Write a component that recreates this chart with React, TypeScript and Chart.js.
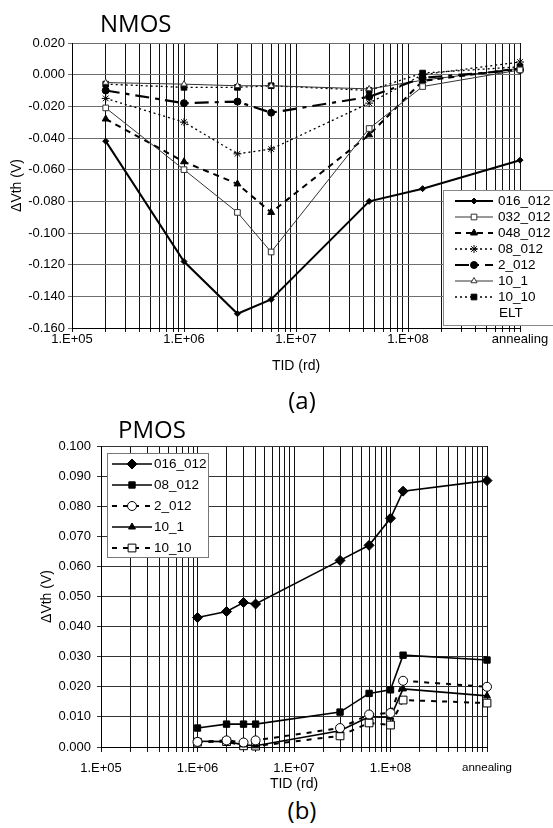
import React, { useEffect, useRef } from 'react';
import { Chart, registerables } from 'chart.js';
Chart.register(...registerables);

// ---------------- data ----------------
const ANNEALING = 1e9;
const xTickValues = [1e5, 1e6, 1e7, 1e8, ANNEALING];
const xTickLabels = ['1.E+05', '1.E+06', '1.E+07', '1.E+08', 'annealing'];

// NMOS (a)
const nmosDose = [2e5, 1e6, 3e6, 6e6, 4.5e7, 1.35e8, ANNEALING];
const nmos016_012 = [-0.042, -0.118, -0.151, -0.142, -0.080, -0.072, -0.054];
const nmos032_012 = [-0.021, -0.060, -0.087, -0.112, -0.034, -0.0075, 0.003];
const nmos048_012 = [-0.028, -0.055, -0.069, -0.087, -0.038, -0.004, 0.004];
const nmos08_012 = [-0.015, -0.030, -0.050, -0.047, -0.018, 0.000, 0.008];
const nmos2_012 = [-0.010, -0.018, -0.017, -0.024, -0.014, -0.002, 0.003];
const nmos10_1 = [-0.005, -0.006, -0.007, -0.007, -0.009, -0.0035, 0.004];
const nmos10_10 = [-0.006, -0.008, -0.008, -0.007, -0.010, 0.001, 0.005];
const nmosYTicks = [-0.16, -0.14, -0.12, -0.1, -0.08, -0.06, -0.04, -0.02, 0, 0.02];

// PMOS (b)
const pmosDose = [1e6, 2e6, 3e6, 4e6, 3e7, 6e7, 1e8, 1.35e8, ANNEALING];
const pmos016_012 = [0.043, 0.045, 0.048, 0.0475, 0.062, 0.067, 0.076, 0.085, 0.0885];
const pmos08_012 = [0.0063, 0.0076, 0.0076, 0.0076, 0.0116, 0.0178, 0.019, 0.0305, 0.0289];
const pmos2_012 = [0.0017, 0.0022, 0.0015, 0.0022, 0.0063, 0.0108, 0.0113, 0.022, 0.020];
const pmos10_1 = [0.0019, 0.0018, 0.0007, 0.0004, 0.0054, 0.0100, 0.0099, 0.0193, 0.0170];
const pmos10_10 = [0.0016, 0.0018, 0.0004, 0.0003, 0.0037, 0.0080, 0.0073, 0.0156, 0.0146];
const pmosYTicks = [0, 0.01, 0.02, 0.03, 0.04, 0.05, 0.06, 0.07, 0.08, 0.09, 0.1];

const FONT = '"Liberation Sans", Arial, sans-serif';

type Series = {
  label: string;
  values: number[];
  color: string;
  width: number;
  dash: number[];
  marker: string;
  r: number;
  filled: boolean;
};

const nmosSeries: Series[] = [
  { label: '016_012', values: nmos016_012, color: '#000', width: 2, dash: [], marker: 'rectRot', r: 3, filled: true },
  { label: '032_012', values: nmos032_012, color: '#333', width: 1, dash: [], marker: 'rect', r: 4, filled: false },
  { label: '048_012', values: nmos048_012, color: '#000', width: 2, dash: [6, 5], marker: 'triangle', r: 4, filled: true },
  { label: '08_012', values: nmos08_012, color: '#000', width: 1.3, dash: [2, 3], marker: 'star', r: 4, filled: false },
  { label: '2_012', values: nmos2_012, color: '#000', width: 2.2, dash: [14, 6, 4, 6], marker: 'circle', r: 3.5, filled: true },
  { label: '10_1', values: nmos10_1, color: '#333', width: 1, dash: [], marker: 'triangle', r: 3.5, filled: false },
  { label: '10_10', values: nmos10_10, color: '#000', width: 1.3, dash: [2, 3], marker: 'rect', r: 4, filled: true },
];

const pmosSeries: Series[] = [
  { label: '016_012', values: pmos016_012, color: '#000', width: 1.6, dash: [], marker: 'rectRot', r: 5, filled: true },
  { label: '08_012', values: pmos08_012, color: '#000', width: 1.6, dash: [], marker: 'rect', r: 4.5, filled: true },
  { label: '2_012', values: pmos2_012, color: '#000', width: 2, dash: [5, 6], marker: 'circle', r: 4.5, filled: false },
  { label: '10_1', values: pmos10_1, color: '#000', width: 1.6, dash: [], marker: 'triangle', r: 4, filled: true },
  { label: '10_10', values: pmos10_10, color: '#000', width: 2, dash: [5, 6], marker: 'rect', r: 5.5, filled: false },
];

// ---------------- helpers ----------------
function logGridTicks(): number[] {
  const t: number[] = [];
  for (let e = 5; e < 9; e++) for (let m = 1; m < 10; m++) t.push(m * Math.pow(10, e));
  t.push(ANNEALING);
  return t;
}

function drawMarker(ctx: CanvasRenderingContext2D, s: Series, x: number, y: number) {
  const r = s.r;
  ctx.save();
  ctx.setLineDash([]);
  ctx.lineWidth = 1;
  ctx.strokeStyle = s.color;
  ctx.fillStyle = s.filled ? s.color : '#fff';
  ctx.beginPath();
  if (s.marker === 'circle') {
    ctx.arc(x, y, r, 0, Math.PI * 2);
  } else if (s.marker === 'rect') {
    const h = Math.SQRT1_2 * r;
    ctx.rect(x - h, y - h, 2 * h, 2 * h);
  } else if (s.marker === 'rectRot') {
    ctx.moveTo(x - r, y);
    ctx.lineTo(x, y - r);
    ctx.lineTo(x + r, y);
    ctx.lineTo(x, y + r);
    ctx.closePath();
  } else if (s.marker === 'triangle') {
    let a = 0;
    ctx.moveTo(x + Math.sin(a) * r, y - Math.cos(a) * r);
    a += (2 * Math.PI) / 3;
    ctx.lineTo(x + Math.sin(a) * r, y - Math.cos(a) * r);
    a += (2 * Math.PI) / 3;
    ctx.lineTo(x + Math.sin(a) * r, y - Math.cos(a) * r);
    ctx.closePath();
  } else if (s.marker === 'star') {
    ctx.moveTo(x, y - r); ctx.lineTo(x, y + r);
    ctx.moveTo(x - r, y); ctx.lineTo(x + r, y);
    const d = r * Math.SQRT1_2;
    ctx.moveTo(x - d, y - d); ctx.lineTo(x + d, y + d);
    ctx.moveTo(x - d, y + d); ctx.lineTo(x + d, y - d);
    ctx.stroke();
    ctx.restore();
    return;
  }
  ctx.fill();
  ctx.stroke();
  ctx.restore();
}

type LegendCfg = {
  box: [number, number, number, number];
  border: string;
  y0: number;
  dy: number;
  lx0: number;
  lx1: number;
  tx: number;
  fontSize: number;
  extra?: string;
};

function makeLegendPlugin(series: Series[], cfg: LegendCfg) {
  return {
    id: 'boxLegend',
    afterDraw(chart: any) {
      const ctx: CanvasRenderingContext2D = chart.ctx;
      ctx.save();
      const [bx, by, bw, bh] = cfg.box;
      ctx.fillStyle = '#fff';
      ctx.fillRect(bx, by, bw, bh);
      ctx.strokeStyle = cfg.border;
      ctx.lineWidth = 1;
      ctx.setLineDash([]);
      ctx.strokeRect(bx + 0.5, by + 0.5, bw, bh);
      ctx.font = `${cfg.fontSize}px ${FONT}`;
      ctx.textBaseline = 'middle';
      ctx.textAlign = 'left';
      series.forEach((s, i) => {
        const y = cfg.y0 + i * cfg.dy;
        ctx.strokeStyle = s.color;
        ctx.lineWidth = s.width;
        ctx.setLineDash(s.dash);
        ctx.beginPath();
        ctx.moveTo(cfg.lx0, y);
        ctx.lineTo(cfg.lx1, y);
        ctx.stroke();
        ctx.setLineDash([]);
        drawMarker(ctx, s, (cfg.lx0 + cfg.lx1) / 2, y);
        ctx.fillStyle = '#000';
        ctx.fillText(s.label, cfg.tx, y);
      });
      if (cfg.extra) {
        ctx.fillStyle = '#000';
        ctx.fillText(cfg.extra, cfg.tx + 1, cfg.y0 + series.length * cfg.dy);
      }
      ctx.restore();
    },
  };
}

type ChartCfg = {
  series: Series[];
  dose: number[];
  yTicks: number[];
  yMin: number;
  yMax: number;
  padTop: number;
  padRight: number;
  yWidth: number;
  xHeight: number;
  xTickLen: number;
  xTickPad: number;
  yTickPad: number;
  yTitlePad: number;
  annealSize: number;
  hGrid: string;
  vGrid: string;
  legend: LegendCfg;
};

function buildChart(canvas: HTMLCanvasElement, c: ChartCfg) {
  const gridTicks = logGridTicks();
  return new Chart(canvas, {
    type: 'line',
    data: {
      datasets: c.series.map((s) => ({
        label: s.label,
        data: c.dose.map((x, i) => ({ x, y: s.values[i] })),
        borderColor: s.color,
        borderWidth: s.width,
        borderDash: s.dash,
        pointStyle: s.marker as any,
        pointRadius: s.r,
        pointHoverRadius: s.r,
        pointBorderWidth: 1,
        pointBorderColor: s.color,
        pointBackgroundColor: s.filled ? s.color : '#fff',
        fill: false,
        tension: 0,
        clip: false as any,
      })),
    },
    options: {
      responsive: false,
      animation: false,
      devicePixelRatio: 1,
      events: [],
      layout: { padding: { top: c.padTop, right: c.padRight, bottom: 0, left: 0 } },
      plugins: { legend: { display: false }, tooltip: { enabled: false }, title: { display: false } },
      scales: {
        x: {
          type: 'logarithmic',
          min: 1e5,
          max: ANNEALING,
          afterBuildTicks: (s: any) => {
            s.ticks = gridTicks.map((v) => ({ value: v }));
          },
          afterFit: (s: any) => {
            s.height = c.xHeight;
          },
          ticks: {
            autoSkip: false,
            maxRotation: 0,
            minRotation: 0,
            padding: c.xTickPad,
            color: '#000',
            font: (ctx: any) => ({
              family: FONT,
              size: ctx.tick && ctx.tick.value === ANNEALING ? c.annealSize : 13,
            }),
            callback: (v: any) => {
              const i = xTickValues.indexOf(Number(v));
              return i >= 0 ? xTickLabels[i] : '';
            },
          },
          grid: { color: c.vGrid, lineWidth: 1, tickLength: c.xTickLen, drawTicks: true },
          border: { color: '#000', width: 1 },
          title: {
            display: true,
            text: 'TID (rd)',
            color: '#000',
            font: { family: FONT, size: 14 },
            padding: { top: 0, bottom: 0 },
          },
        },
        y: {
          type: 'linear',
          min: c.yMin,
          max: c.yMax,
          afterBuildTicks: (s: any) => {
            s.ticks = c.yTicks.map((v) => ({ value: v }));
          },
          afterFit: (s: any) => {
            s.width = c.yWidth;
          },
          ticks: {
            padding: c.yTickPad,
            color: '#000',
            font: { family: FONT, size: 13 },
            callback: (v: any) => {
              const n = Number(v);
              return (Math.abs(n) < 1e-9 ? 0 : n).toFixed(3);
            },
          },
          grid: { color: c.hGrid, lineWidth: 1, tickLength: 4 },
          border: { color: '#000', width: 1 },
          title: {
            display: true,
            text: 'ΔVth (V)',
            color: '#000',
            font: { family: FONT, size: 14 },
            padding: { top: c.yTitlePad, bottom: 0 },
          },
        },
      },
    } as any,
    plugins: [makeLegendPlugin(c.series, c.legend) as any],
  });
}

// ---------------- components ----------------
const headingStyle: React.CSSProperties = {
  position: 'absolute',
  fontFamily: '"Open Sans", "Noto Sans", sans-serif',
  fontSize: 24,
  lineHeight: '24px',
  color: '#000',
  whiteSpace: 'nowrap',
  margin: 0,
};

export default function App() {
  const refA = useRef<HTMLCanvasElement>(null);
  const refB = useRef<HTMLCanvasElement>(null);

  useEffect(() => {
    const topB = 400;
    const a = buildChart(refA.current!, {
      series: nmosSeries,
      dose: nmosDose,
      yTicks: nmosYTicks,
      yMin: -0.16,
      yMax: 0.02,
      padTop: 43,
      padRight: 33,
      yWidth: 72,
      xHeight: 47,
      xTickLen: 4,
      xTickPad: 0,
      yTickPad: 3,
      yTitlePad: 9,
      annealSize: 13,
      hGrid: '#6e6e6e',
      vGrid: '#111',
      legend: {
        box: [443, 190, 130, 135],
        border: '#888',
        y0: 201,
        dy: 16,
        lx0: 455,
        lx1: 493,
        tx: 498,
        fontSize: 13.5,
        extra: 'ELT',
      },
    });
    const b = buildChart(refB.current!, {
      series: pmosSeries,
      dose: pmosDose,
      yTicks: pmosYTicks,
      yMin: 0,
      yMax: 0.1,
      padTop: 46,
      padRight: 66,
      yWidth: 101,
      xHeight: 46,
      xTickLen: 5,
      xTickPad: 9,
      yTickPad: 6,
      yTitlePad: 38.6,
      annealSize: 11.5,
      hGrid: '#333',
      vGrid: '#111',
      legend: {
        box: [107, 453 - topB, 101, 104],
        border: '#777',
        y0: 464 - topB,
        dy: 21,
        lx0: 112,
        lx1: 152,
        tx: 154,
        fontSize: 13.5,
      },
    });
    return () => {
      a.destroy();
      b.destroy();
    };
  }, []);

  return (
    <div style={{ position: 'absolute', left: 0, top: 0, width: 553, height: 828, background: '#fff' }}>
      <canvas ref={refA} width={553} height={375} style={{ position: 'absolute', left: 0, top: 0 }} />
      <canvas ref={refB} width={553} height={393} style={{ position: 'absolute', left: 0, top: 400 }} />
      <div style={{ ...headingStyle, left: 100, top: 11 }}>NMOS</div>
      <div style={{ ...headingStyle, left: 252, top: 388, width: 100, textAlign: 'center' }}>(a)</div>
      <div style={{ ...headingStyle, left: 118, top: 417 }}>PMOS</div>
      <div style={{ ...headingStyle, left: 252, top: 798, width: 100, textAlign: 'center' }}>(b)</div>
    </div>
  );
}
